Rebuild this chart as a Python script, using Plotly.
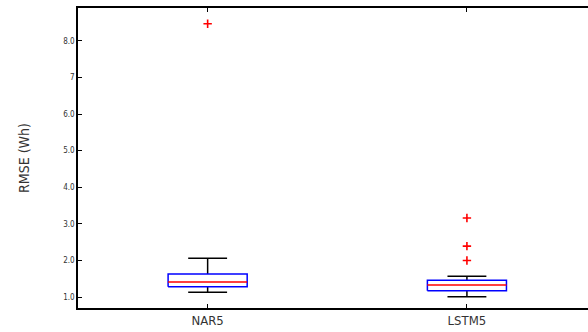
import plotly.graph_objects as go

categories = ["NAR5", "LSTM5"]
lower_whisker = [1.13, 1.01]
q1 = [1.28, 1.17]
median = [1.41, 1.33]
q3 = [1.63, 1.46]
upper_whisker = [2.06, 1.57]
outliers = [[8.47], [3.16, 2.39, 2.00]]
tick_vals = [1, 2, 3, 4, 5, 6, 7, 8]
tick_text = ["1.0", "2.0", "3.0", "4.0", "5.0", "6.0", "7", "8.0"]

pos = [1, 2]
bw = 0.305
cw = 0.15

fig = go.Figure()
for i, p in enumerate(pos):
    # whiskers
    fig.add_trace(go.Scatter(
        x=[p, p, None, p, p, None, p - cw / 2, p + cw / 2, None, p - cw / 2, p + cw / 2],
        y=[q3[i], upper_whisker[i], None, q1[i], lower_whisker[i], None,
           upper_whisker[i], upper_whisker[i], None, lower_whisker[i], lower_whisker[i]],
        mode="lines", line=dict(color="black", width=1.5), showlegend=False, hoverinfo="skip"))
    # box
    fig.add_trace(go.Scatter(
        x=[p - bw / 2, p + bw / 2, p + bw / 2, p - bw / 2, p - bw / 2],
        y=[q1[i], q1[i], q3[i], q3[i], q1[i]],
        mode="lines", line=dict(color="blue", width=1.5), fill="toself",
        fillcolor="white", showlegend=False, hoverinfo="skip"))
    # median
    fig.add_trace(go.Scatter(
        x=[p - bw / 2, p + bw / 2], y=[median[i], median[i]],
        mode="lines", line=dict(color="red", width=1.5), showlegend=False, hoverinfo="skip"))
    # outliers
    fig.add_trace(go.Scatter(
        x=[p] * len(outliers[i]), y=outliers[i], mode="markers",
        marker=dict(symbol="cross-thin", size=6, line=dict(color="red", width=1.6)),
        showlegend=False, hoverinfo="skip"))

fig.update_layout(
    width=588, height=332,
    margin=dict(l=78, r=0, t=8, b=24),
    plot_bgcolor="white", paper_bgcolor="white",
    font=dict(family="DejaVu Sans Condensed, DejaVu Sans", color="#333"),
    xaxis=dict(range=[0.5, 2.467], tickvals=pos, ticktext=categories,
               showline=True, linecolor="black", linewidth=1.5, mirror="ticks",
               ticks="inside", ticklen=4, tickcolor="black", showgrid=False,
               zeroline=False, tickfont=dict(size=13)),
    yaxis=dict(range=[0.70, 8.90], tickvals=tick_vals, ticktext=tick_text,
               showline=True, linecolor="black", linewidth=1.5,
               ticks="inside", ticklen=4, tickcolor="black", showgrid=False,
               zeroline=False, tickfont=dict(size=8),
               title=dict(text="RMSE (Wh)", font=dict(size=14), standoff=30)),
)

fig.write_html("out.html")
